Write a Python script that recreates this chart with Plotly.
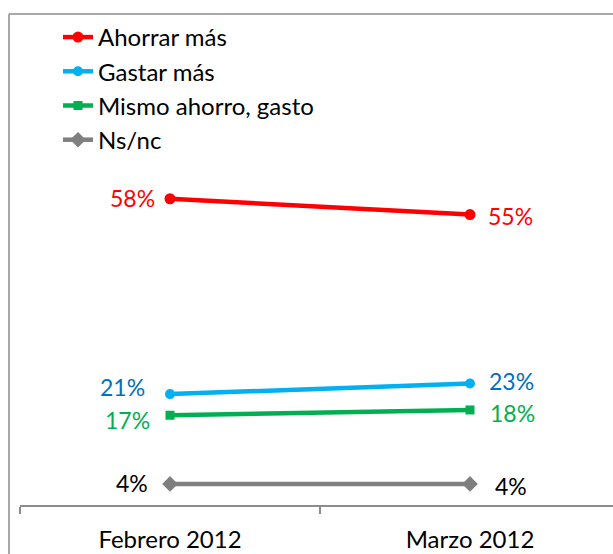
import plotly.graph_objects as go

# Survey results: share of respondents by intention (percent)
categories = ["Febrero 2012", "Marzo 2012"]
series_names = ["Ahorrar más", "Gastar más", "Mismo ahorro, gasto", "Ns/nc"]
ahorrar = [58, 55]
gastar = [21, 23]
mismo = [17, 18]
nsnc = [4, 4]

FONT = "Lato"
W, H = 613, 554
PLOT_L, PLOT_B, PLOT_T = 20, 49, 14

styles = {
    "Ahorrar más": dict(color="#FF0000", label="#FF0000", symbol="circle", size=11,
                        shifts=[(-13, 1), (16, -1)]),
    "Gastar más": dict(color="#00B0F0", label="#0070C0", symbol="circle", size=10,
                       shifts=[(-23, 7), (17, 3)]),
    "Mismo ahorro, gasto": dict(color="#00B050", label="#00B050", symbol="square", size=9,
                                shifts=[(-18, -5), (18, -3)]),
    "Ns/nc": dict(color="#7F7F7F", label="#000000", symbol="diamond", size=12,
                  shifts=[(-20, 1), (23, -2)]),
}

values = dict(zip(series_names, [ahorrar, gastar, mismo, nsnc]))

fig = go.Figure()
annotations = []
for name in series_names:
    st = styles[name]
    vals = values[name]
    fig.add_trace(go.Scatter(
        x=categories, y=vals, name=name, mode="lines+markers",
        line=dict(color=st["color"], width=4.5),
        marker=dict(color=st["color"], symbol=st["symbol"], size=st["size"]),
        hoverinfo="skip",
    ))
    for i, (cat, v) in enumerate(zip(categories, vals)):
        dx, dy = st["shifts"][i]
        annotations.append(dict(
            x=cat, y=v, xref="x", yref="y", text=f"{v}%", showarrow=False,
            xanchor="right" if i == 0 else "left", yanchor="middle",
            xshift=dx, yshift=dy,
            font=dict(family=FONT, size=23, color=st["label"]),
        ))

# px per percentage point on the value axis
plot_h = H - PLOT_T - PLOT_B
y_max = plot_h / 5.28
plot_w = W - PLOT_L
x_max = -0.5 + plot_w / 300.0

fig.update_layout(
    width=W, height=H,
    margin=dict(l=PLOT_L, r=0, t=PLOT_T, b=PLOT_B, pad=0, autoexpand=False),
    paper_bgcolor="white", plot_bgcolor="white",
    font=dict(family=FONT, size=24, color="#000000"),
    showlegend=True,
    legend=dict(
        xref="container", yref="container", x=58 / W, y=1 - 15 / H,
        xanchor="left", yanchor="top",
        font=dict(family=FONT, size=24, color="#000000"),
        bgcolor="rgba(0,0,0,0)", tracegroupgap=0, itemwidth=30,
    ),
    xaxis=dict(
        type="category", range=[-0.5, x_max], tickson="boundaries",
        ticks="outside", ticklen=7, tickwidth=1.5, tickcolor="#8C8C8C",
        showline=True, linecolor="#8C8C8C", linewidth=1.5,
        showgrid=False, zeroline=False, fixedrange=True,
        ticklabelstandoff=12,
        tickfont=dict(family=FONT, size=24, color="#000000"),
    ),
    yaxis=dict(range=[0, y_max], visible=False, fixedrange=True),
    annotations=annotations,
    shapes=[
        # chart frame (left and top edges)
        dict(type="line", xref="paper", yref="paper",
             x0=(9 - PLOT_L) / plot_w, x1=(9 - PLOT_L) / plot_w,
             y0=-PLOT_B / plot_h - 0.01, y1=1.0,
             line=dict(color="#8C8C8C", width=1.5)),
        dict(type="line", xref="paper", yref="paper",
             x0=(9 - PLOT_L) / plot_w, x1=1.01, y0=1.0, y1=1.0,
             line=dict(color="#8C8C8C", width=1.5)),
    ],
)

fig.write_html("out.html")
